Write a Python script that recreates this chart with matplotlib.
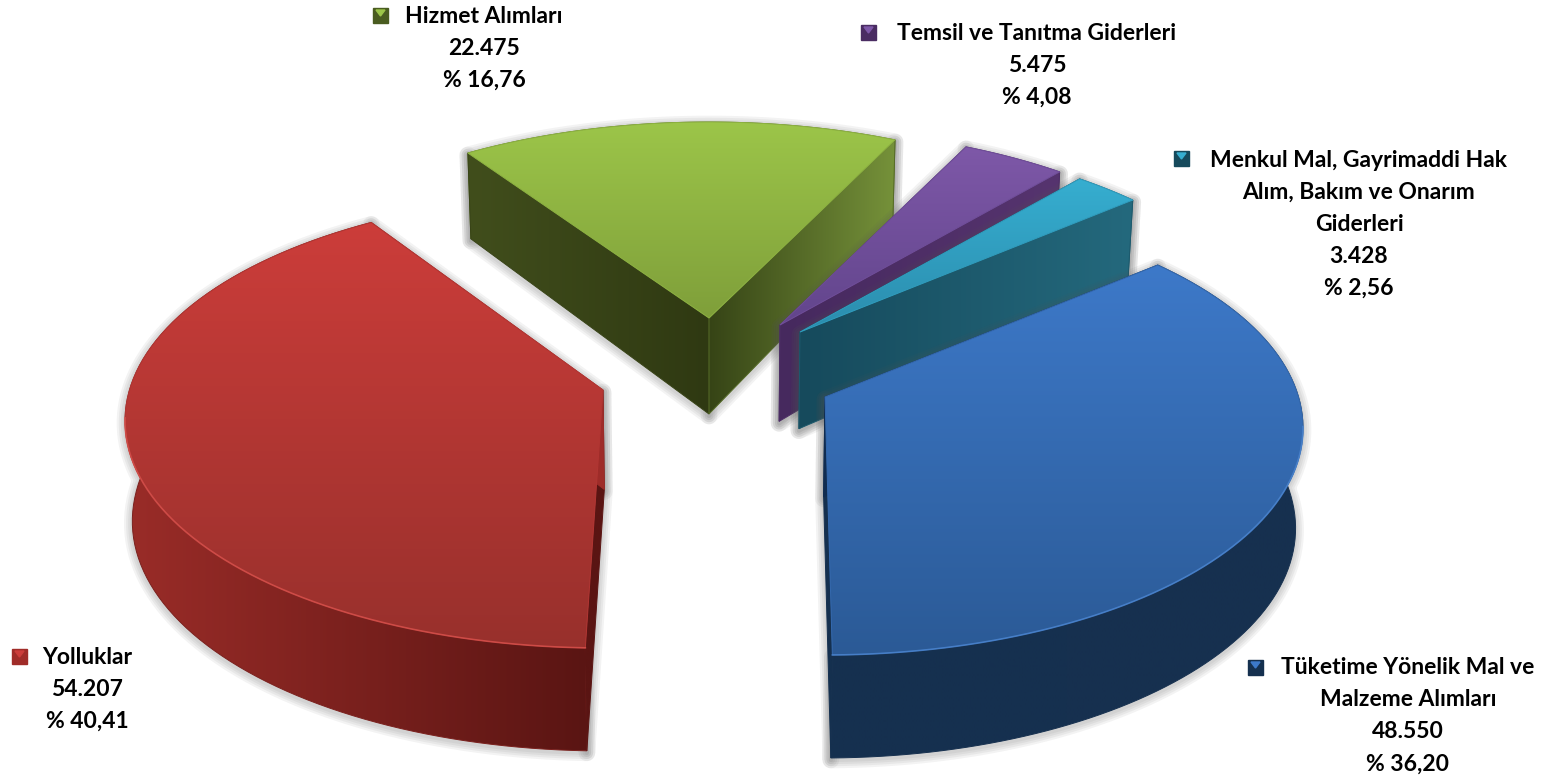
"""3D exploded pie of expense items, drawn by hand in pixel coordinates."""
import matplotlib
matplotlib.use("Agg")
import matplotlib.pyplot as plt
import numpy as np
from matplotlib.colors import LinearSegmentedColormap
from matplotlib.patches import PathPatch, Polygon, Rectangle
from matplotlib.path import Path

plt.rcParams["font.family"] = ["Lato", "DejaVu Sans"]

# data, in drawing order (clockwise from the back left)
names = ["Hizmet Alımları", "Temsil ve Tanıtma Giderleri",
         "Menkul Mal, Gayrimaddi Hak\nAlım, Bakım ve Onarım\nGiderleri",
         "Tüketime Yönelik Mal ve\nMalzeme Alımları", "Yolluklar"]
values = [22475, 5475, 3428, 48550, 54207]
value_labels = ["22.475", "5.475", "3.428", "48.550", "54.207"]
pct_labels = ["% 16,76", "% 4,08", "% 2,56", "% 36,20", "% 40,41"]

# layout: pie apex of each exploded slice, pixels
apex_x = [709, 780, 800, 825, 603]
apex_y = [318, 325, 332, 397, 390]
RX, RY, CY_OFF = 478, 227, 31
START_ANGLE = 120.4
# perspective: where the true angles land on the tilted ellipse
TRUE_KNOTS = [-239.6, -94, 36.3, 45.5, 60.2, 120.4]
DRAWN_KNOTS = [-241, -90.5, 46, 54.3, 67.2, 120.3]
EDGE_TRIM = [(0, 0), (0, 0), (0, 0), (0, 1.5), (-1.5, 0)]

# colours: top face (back, front), wall (left, right), cut face (left, right)
top_cols = [("#9cc549", "#7f9f3a"), ("#7e58a8", "#62458c"), ("#36aed0", "#2b8cad"),
            ("#3d79c9", "#2b5a96"), ("#cc3d3a", "#98302c")]
wall_cols = [("#4a5c20", "#6f8a34"), ("#4a2c62", "#57346f"), ("#164a5c", "#236a7e"),
             ("#15304f", "#17304f"), ("#9a2c28", "#5a1513")]
left_face_cols = [("#414e1c", "#2f3912"), ("#4a2c62", "#4a2c62"), ("#164a5c", "#164a5c"),
                  ("#102c50", "#102c50"), ("#5a1513", "#5a1513")]
right_face_cols = [("#364416", "#76923a"), ("#46295e", "#56346f"), ("#164a5c", "#24697d"),
                   ("#15304f", "#15304f"), ("#9e2c29", "#9e2c29")]
rim_cols = [None, None, None, "#4f8ad6", "#dd5550"]

# label blocks: centre x, first line y, marker x, marker y
label_x = [484, 1037, 1359, 1408, 87]
label_y = [16, 33, 160, 668, 657]
marker_x = [380, 868, 1181, 1255, 19]
marker_y = [15, 32, 158, 667, 656]
LINE_H = 32


def drop(x, y):
    """Bottom-of-pie point under a top-face point, with a little perspective."""
    depth = np.interp(y, [140, 318, 400, 650], [85, 96, 100, 103])
    return x + (710 - x) * 0.0125, y + depth


def arc_points(i, t0, t1, n=90):
    t = np.radians(np.linspace(t0, t1, n))
    return apex_x[i] + RX * np.cos(t), apex_y[i] + CY_OFF - RY * np.sin(t)


def gradient(ax, verts, c0, c1, horizontal, zorder):
    verts = np.asarray(verts)
    cmap = LinearSegmentedColormap.from_list("g", [c0, c1])
    lo, hi = verts.min(axis=0), verts.max(axis=0)
    ramp = np.linspace(0, 1, 256)
    ramp = ramp[None, :] if horizontal else ramp[:, None]
    im = ax.imshow(ramp, cmap=cmap, extent=(lo[0], hi[0], hi[1], lo[1]), aspect="auto",
                   interpolation="bilinear", zorder=zorder)
    path = Path(np.vstack([verts, verts[0]]), closed=True)
    im.set_clip_path(path, transform=ax.transData)
    mid = cmap(0.5)
    ax.add_patch(PathPatch(path, fill=False, edgecolor=mid, lw=0.7, zorder=zorder))


def shadow(ax, verts, zorder):
    verts = np.asarray(verts) + [0, 2]
    for lw in [12, 9, 6, 3]:
        ax.add_patch(Polygon(verts, closed=True, fill=False, edgecolor="#555555",
                             lw=lw, alpha=0.07, joinstyle="round", zorder=zorder))


def main():
    fig = plt.figure(figsize=(15.5, 7.79), dpi=100)
    ax = fig.add_axes([0, 0, 1, 1])

    total = sum(values)
    edge = START_ANGLE
    z = 1
    for i, val in enumerate(values):
        sweep = val / total * 360
        t0 = np.interp(edge, TRUE_KNOTS, DRAWN_KNOTS) + EDGE_TRIM[i][0]
        t1 = np.interp(edge - sweep, TRUE_KNOTS, DRAWN_KNOTS) + EDGE_TRIM[i][1]
        edge -= sweep

        ax_pts, ay_pts = arc_points(i, t0, t1)
        bx_pts, by_pts = drop(ax_pts, ay_pts)
        apex = (apex_x[i], apex_y[i])
        apex_low = drop(*apex)

        wall = np.vstack([np.column_stack([ax_pts, ay_pts]),
                          np.column_stack([bx_pts, by_pts])[::-1]])
        left_face = [apex, (ax_pts[0], ay_pts[0]), (bx_pts[0], by_pts[0]), apex_low]
        right_face = [apex, (ax_pts[-1], ay_pts[-1]), (bx_pts[-1], by_pts[-1]), apex_low]
        top = np.vstack([[apex], np.column_stack([ax_pts, ay_pts])])

        shadow(ax, wall, z)
        shadow(ax, left_face, z)
        shadow(ax, right_face, z)
        z += 1
        gradient(ax, wall, *wall_cols[i], True, z)
        if i < 3:
            gradient(ax, left_face, *left_face_cols[i], True, z + 1)
            gradient(ax, right_face, *right_face_cols[i], True, z + 1)
        else:
            # only the cut face on the gap side shows
            gradient(ax, right_face if i == 3 else left_face,
                     *(right_face_cols[i] if i == 3 else left_face_cols[i]), True, z + 1)
            gradient(ax, left_face if i == 3 else right_face,
                     *(left_face_cols[i] if i == 3 else right_face_cols[i]), True, z + 1)
        gradient(ax, top, *top_cols[i], False, z + 2)
        if rim_cols[i]:
            front = ay_pts > apex_y[i] + CY_OFF - 5
            ax.plot(ax_pts[front], ay_pts[front], color=rim_cols[i], lw=1.2, alpha=0.7, zorder=z + 2)
        z += 3

    # legend keys and the label blocks
    for i in range(len(values)):
        mx, my = marker_x[i], marker_y[i]
        ax.add_patch(Rectangle((mx - 7, my - 7), 15, 15, color=wall_cols[i][0] if i != 4 else "#a02c28", zorder=z))
        ax.add_patch(Polygon([(mx - 4, my - 5), (mx + 5, my - 5), (mx + 0.5, my + 1)],
                             color=top_cols[i][0], zorder=z + 1))
        lines = names[i].split("\n") + [value_labels[i], pct_labels[i]]
        for k, line in enumerate(lines):
            ax.text(label_x[i], label_y[i] + k * LINE_H, line, ha="center", va="center",
                    fontsize=16.5, fontweight="bold", color="black", zorder=z + 2)

    ax.set_xlim(0, 1550)
    ax.set_ylim(779, 0)
    ax.axis("off")
    fig.savefig("out.png", dpi=100, facecolor="white")
    plt.close(fig)


if __name__ == "__main__":
    main()
